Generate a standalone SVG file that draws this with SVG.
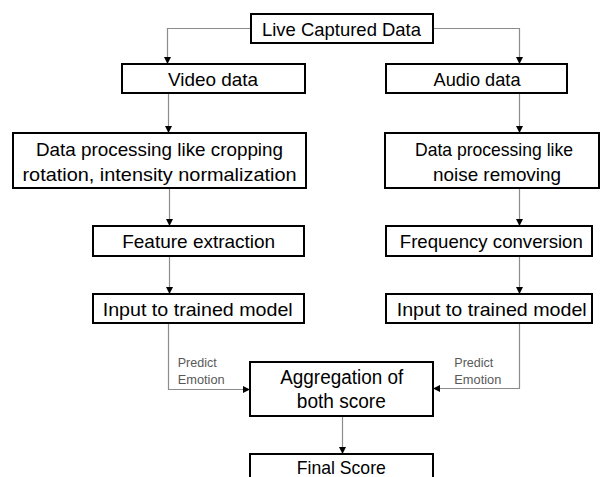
<svg xmlns="http://www.w3.org/2000/svg" width="600" height="477" viewBox="0 0 600 477">
<style>
.box{fill:#fff;stroke:#000;stroke-width:2}
.t{font-family:"Liberation Sans",Arial,sans-serif;font-size:18.5px;fill:#000;text-anchor:middle}
.big{font-size:20px}
.lbl{font-family:"Liberation Sans",Arial,sans-serif;font-size:12px;fill:#595959}
.c{fill:none;stroke:#8c8c8c;stroke-width:1.2}
</style>
<defs>
<marker id="ah" markerUnits="userSpaceOnUse" markerWidth="7" markerHeight="7" refX="7" refY="3.5" orient="auto">
<path d="M0,0 L7,3.5 L0,7 z" fill="#000"/>
</marker>
</defs>
<rect width="600" height="477" fill="#fff"/>
<g id="connectors">
<path class="c" d="M251,28.5 H167.5 V64" marker-end="url(#ah)"/>
<path class="c" d="M433,28.5 H519.5 V64" marker-end="url(#ah)"/>
<path class="c" d="M168.5,93 V133" marker-end="url(#ah)"/>
<path class="c" d="M519.5,93 V133" marker-end="url(#ah)"/>
<path class="c" d="M169.5,188 V226" marker-end="url(#ah)"/>
<path class="c" d="M519.5,188 V226" marker-end="url(#ah)"/>
<path class="c" d="M169.5,256 V294" marker-end="url(#ah)"/>
<path class="c" d="M519.5,256 V294" marker-end="url(#ah)"/>
<path class="c" d="M168.5,323 V389.5 H250" marker-end="url(#ah)"/>
<path class="c" d="M519.5,323 V388.5 H433" marker-end="url(#ah)"/>
<path class="c" d="M342.5,416 V454" marker-end="url(#ah)"/>
<text class="lbl" x="177.7" y="366.7" textLength="39" lengthAdjust="spacingAndGlyphs">Predict</text>
<text class="lbl" x="177.7" y="384" textLength="47" lengthAdjust="spacingAndGlyphs">Emotion</text>
<text class="lbl" x="454.3" y="367" textLength="39" lengthAdjust="spacingAndGlyphs">Predict</text>
<text class="lbl" x="454.3" y="384" textLength="47" lengthAdjust="spacingAndGlyphs">Emotion</text>
</g>
<g id="live"><rect class="box" x="251" y="14" width="182" height="29"/><text class="t" x="341.5" y="35.5" textLength="159" lengthAdjust="spacingAndGlyphs">Live Captured Data</text></g>
<g id="video"><rect class="box" x="122" y="64" width="183" height="29"/><text class="t" x="213" y="85.5" textLength="90" lengthAdjust="spacingAndGlyphs">Video data</text></g>
<g id="audio"><rect class="box" x="386" y="64" width="181" height="29"/><text class="t" x="477" y="85.5" textLength="87" lengthAdjust="spacingAndGlyphs">Audio data</text></g>
<g id="dpLeft"><rect class="box" x="13" y="133" width="293" height="55"/>
<text class="t" x="159.5" y="156" textLength="247" lengthAdjust="spacingAndGlyphs">Data processing like cropping</text>
<text class="t" x="159.5" y="181" textLength="274" lengthAdjust="spacingAndGlyphs">rotation, intensity normalization</text></g>
<g id="dpRight"><rect class="box" x="385" y="133" width="214" height="55"/>
<text class="t" x="494" y="156" textLength="158" lengthAdjust="spacingAndGlyphs">Data processing like</text>
<text class="t" x="497" y="181" textLength="128" lengthAdjust="spacingAndGlyphs">noise removing</text></g>
<g id="feature"><rect class="box" x="93" y="226" width="211" height="30"/><text class="t" x="198.7" y="248" textLength="153" lengthAdjust="spacingAndGlyphs">Feature extraction</text></g>
<g id="frequency"><rect class="box" x="386" y="226" width="206" height="30"/><text class="t" x="491.3" y="248" textLength="183" lengthAdjust="spacingAndGlyphs">Frequency conversion</text></g>
<g id="inputLeft"><rect class="box" x="93" y="294" width="211" height="29"/><text class="t" x="197.7" y="315.5" textLength="190" lengthAdjust="spacingAndGlyphs">Input to trained model</text></g>
<g id="inputRight"><rect class="box" x="386" y="294" width="206" height="29"/><text class="t" x="491.7" y="315.5" textLength="190" lengthAdjust="spacingAndGlyphs">Input to trained model</text></g>
<g id="aggregation"><rect class="box" x="250" y="362" width="183" height="54"/>
<text class="t big" x="341.7" y="384" textLength="123" lengthAdjust="spacingAndGlyphs">Aggregation of</text>
<text class="t big" x="341.3" y="408.3" textLength="89" lengthAdjust="spacingAndGlyphs">both score</text></g>
<g id="final"><rect class="box" x="250" y="454" width="183" height="40"/><text class="t" x="341.3" y="474" textLength="89" lengthAdjust="spacingAndGlyphs">Final Score</text></g>
</svg>
